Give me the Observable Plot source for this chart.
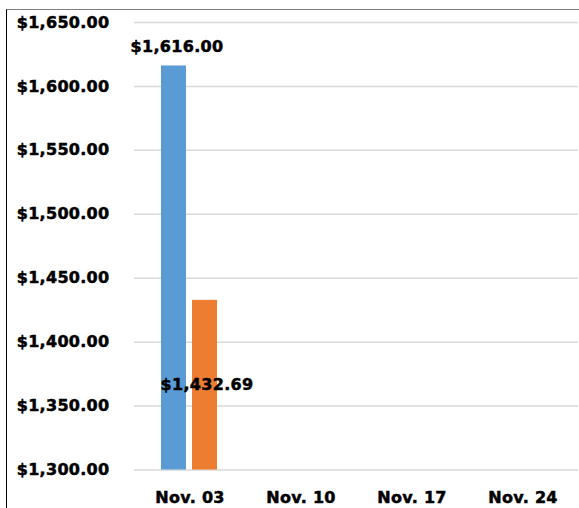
<!DOCTYPE html>
<html>
<head>
<meta charset="utf-8">
<script src="https://cdn.jsdelivr.net/npm/d3@7"></script>
<script src="https://cdn.jsdelivr.net/npm/@observablehq/plot@0.6"></script>
<style>
  html, body { margin: 0; padding: 0; background: #fff; }
  #wrap { position: relative; width: 579px; height: 508px; overflow: hidden; }
  #frame { position: absolute; left: 6px; top: 9px; right: -2px; bottom: -2px;
           border-left: 1.5px solid #000; border-top: 1.5px solid #7f7f7f; pointer-events: none; }
  #wrap svg text { stroke: #000; stroke-width: 0.5px; letter-spacing: 0.3px; }
</style>
</head>
<body>
<div id="wrap"><div id="frame"></div></div>
<script>
const dates = ["Nov. 03", "Nov. 10", "Nov. 17", "Nov. 24"];
const seriesNames = ["Series 1", "Series 2"];
const seriesColors = ["#5B9BD5", "#ED7D31"];
const series1 = [1616.00, null, null, null];
const series2 = [1432.69, null, null, null];
const yDomain = [1300, 1650];
const yTicks = [1300, 1350, 1400, 1450, 1500, 1550, 1600, 1650];

const rows = [];
dates.forEach((d, i) => {
  rows.push({date: d, series: seriesNames[0], value: series1[i]});
  rows.push({date: d, series: seriesNames[1], value: series2[i]});
});
const fmt = d3.format("$,.2f");

const chart = Plot.plot({
  width: 579,
  height: 508,
  marginLeft: 132,
  marginRight: 0,
  marginTop: 22,
  marginBottom: 38.5,
  style: {fontFamily: "DejaVu Sans", fontWeight: "bold", fontSize: "16px", color: "#000", background: "transparent"},
  fx: {domain: dates, padding: 0, label: null},
  x: {domain: seriesNames, paddingInner: 0.1875, paddingOuter: 0.84, axis: null},
  y: {domain: yDomain},
  color: {domain: seriesNames, range: seriesColors},
  marks: [
    Plot.gridY(yTicks, {stroke: "#d9d9d9", strokeOpacity: 1, strokeWidth: 1.5}),
    Plot.barY(rows, {fx: "date", x: "series", y1: () => yDomain[0], y2: "value", fill: "series"}),
    Plot.text(rows.filter(d => d.series === seriesNames[0] && d.value != null), {fx: "date", x: "series", y: "value", text: d => fmt(d.value), dy: -19.5, dx: 3, fill: "#000"}),
    Plot.text(rows.filter(d => d.series === seriesNames[1] && d.value != null), {fx: "date", x: "series", y: "value", text: d => fmt(d.value), dy: 85, dx: 2, fill: "#000"}),
    Plot.axisY(yTicks, {tickSize: 0, tickPadding: 25, tickFormat: fmt, label: null}),
    Plot.axisFx({anchor: "bottom", tickSize: 0, tickPadding: 22, label: null})
  ]
});
document.getElementById("wrap").insertBefore(chart, document.getElementById("frame"));
</script>
</body>
</html>
